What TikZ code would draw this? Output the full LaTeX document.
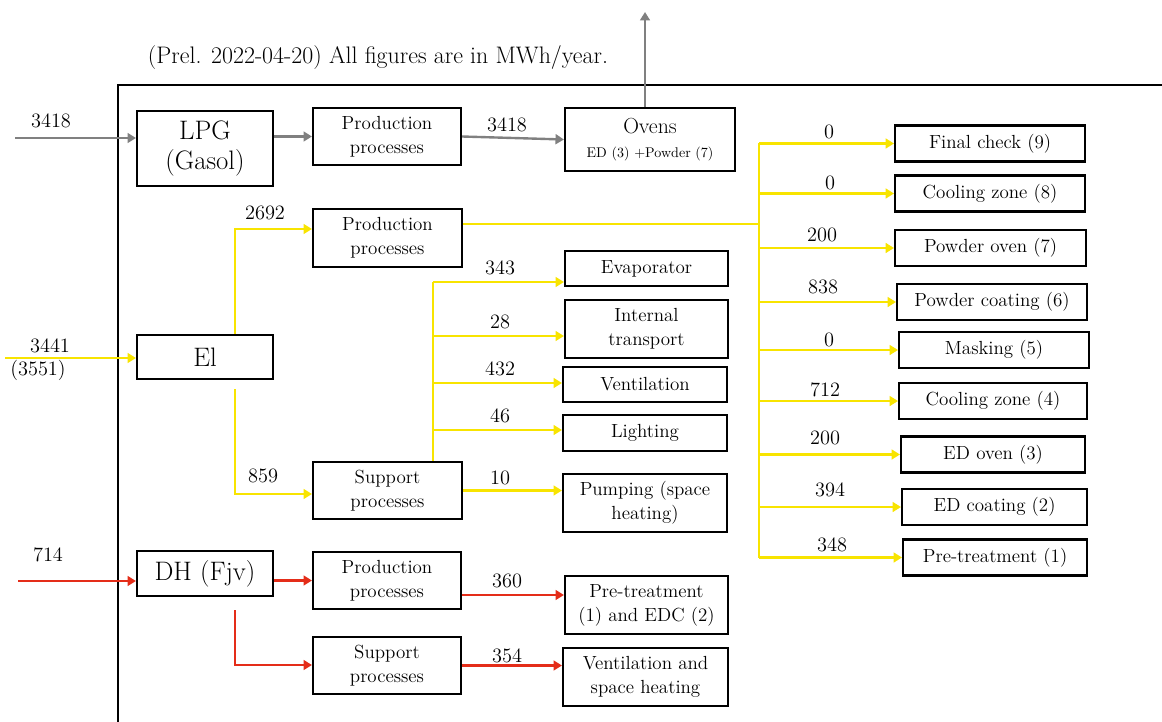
\documentclass[tikz,border=0pt]{standalone}
\usetikzlibrary{arrows.meta,calc}
\newcommand{\pxu}{0.025cm}
\definecolor{gasgray}{RGB}{128,128,128}
\definecolor{elyellow}{RGB}{248,228,0}
\definecolor{dhred}{RGB}{228,45,25}
\tikzset{%
   box/.style={draw=black,line width=1.5pt,align=center,inner sep=0pt,%
      font=\fontsize{13.5}{17}\selectfont},%
   big/.style={font=\fontsize{19}{21.5}\selectfont},%
   pipe/.style={line width=1.7pt},%
   flow/.style={pipe,-{Triangle[length=6pt,width=7pt]}},%
   val/.style={font=\fontsize{14.5}{16}\selectfont,inner sep=0pt},%
}
\begin{document}
\begin{tikzpicture}[x=\pxu,y=-\pxu]%
      \useasboundingbox (0,0) rectangle (1162,722);%
      % ~ frame and title
      \draw[line width=1.5pt] (118,722) -- (118,85) -- (1162,85);%
      \node[font=\fontsize{17}{19}\selectfont] (title) at (378,58)
         {(Prel. 2022-04-20) All figures are in MWh/year.};
      %
      % ~ gas (LPG)
      \node[box,big,minimum width=136*\pxu,minimum height=75*\pxu] (lpg) at (205,148.5) {LPG\\(Gasol)};
      \node[box,minimum width=148*\pxu,minimum height=57*\pxu] (gprod) at (387,136.5) {Production\\processes};
      \node[box,minimum width=170*\pxu,minimum height=63*\pxu] (ovens) at (650,139.5)
         {{\fontsize{15.5}{17}\selectfont Ovens}\\{\fontsize{10}{12}\selectfont ED (3) +Powder (7)}};
      \coordinate (gasin) at (15,138);%
      \coordinate (exh) at (645,12);%
      \draw[flow,gasgray] (gasin) -- (gasin -| lpg.west);%
      \draw[flow,gasgray] (lpg.east |- gprod.west) -- (gprod.west);%
      \draw[flow,gasgray] (gprod.east) -- (ovens.west);%
      \draw[flow,gasgray] (exh |- ovens.north) -- (exh);%
      \node[val] (vgasin) at (51,121) {3418};
      \node[val] (vgasov) at (507,125) {3418};
      %
      % ~ electricity (El)
      \node[box,big,minimum width=136*\pxu,minimum height=44*\pxu] (el) at (205,357) {El};
      \node[box,minimum width=149*\pxu,minimum height=58*\pxu] (eprod) at (387.5,238) {Production\\processes};
      \node[box,minimum width=149*\pxu,minimum height=57*\pxu] (esup) at (387.5,490.5) {Support\\processes};
      \node[box,minimum width=163*\pxu,minimum height=35*\pxu] (evap) at (646.5,268.5) {Evaporator};
      \node[box,minimum width=163*\pxu,minimum height=58*\pxu] (itrans) at (646.5,329) {Internal\\transport};
      \node[box,minimum width=164*\pxu,minimum height=35*\pxu] (vent) at (645,384.5) {Ventilation};
      \node[box,minimum width=164*\pxu,minimum height=36*\pxu] (light) at (645,433) {Lighting};
      \node[box,minimum width=164*\pxu,minimum height=58*\pxu] (pump) at (645,503) {Pumping (space\\heating)};
      \coordinate (elin) at (5,358);%
      \coordinate (eup) at (235,229);%
      \coordinate (edn) at (235,494);%
      \coordinate (sstem) at (433,282);%
      \draw[flow,elyellow] (elin) -- (elin -| el.west);%
      \draw[flow,elyellow] (eup |- el.north) -- (eup) -- (eup -| eprod.west);%
      \draw[flow,elyellow] ($(edn |- el.south)+(0,9)$) -- (edn) -- (edn -| esup.west);%
      \draw[pipe,elyellow] (sstem |- esup.north) -- (sstem);%
      \draw[flow,elyellow] (esup.east) -- (esup.east -| pump.west);%
      \node[val] (velin) at (50,346) {3441};
      \node[val] (velin2) at (38,370) {(3551)};
      \node[val] (veprod) at (265,213) {2692};
      \node[val] (vesup) at (263,476) {859};
      \node[val] (vpump) at (500,478) {10};
      % support branches
      \foreach \tg/\yy/\val in {evap/282/343,itrans/336/28,vent/383/432,light/430/46}%
         {%
            \coordinate (b\tg) at (433,\yy);%
            \draw[flow,elyellow] (b\tg) -- (b\tg -| \tg.west);%
            \node[val] (v\tg) at (500,\yy-14) {\val};
         }%
      % production branches
      \coordinate (trunk) at (759,224);%
      \foreach \nm/\lx/\rx/\yy/\txt/\val/\vx/\vy in {%
            fc/894/1084/143.5/Final check (9)/0/829/132,%
            cz8/894/1084/193.5/Cooling zone (8)/0/830/183,%
            po7/894/1085/248/Powder oven (7)/200/822/235,%
            pc6/896/1086/302/Powder coating (6)/838/823/287,%
            mk5/898/1088/350/Masking (5)/0/829/340,%
            cz4/898/1086/401/Cooling zone (4)/712/825/390,%
            eo3/900/1084/454.5/ED oven (3)/200/825/438,%
            ec2/901/1086/507/ED coating (2)/394/830/490,%
            pt1/902/1086/557.5/Pre-treatment (1)/348/832/545}%
         {%
            \node[box,anchor=west,minimum width={(\rx-\lx)*\pxu},minimum height=36*\pxu] (\nm) at (\lx,\yy) {\txt};
            \draw[flow,elyellow] (trunk |- \nm.west) -- (\nm.west);%
            \node[val] (v\nm) at (\vx,\vy) {\val};
         }%
      \draw[pipe,elyellow] (eprod.east |- trunk) -- (trunk);%
      \draw[pipe,elyellow] (trunk |- fc.west) -- (trunk |- pt1.west);%
      %
      % ~ district heating (DH)
      \node[box,big,minimum width=136*\pxu,minimum height=45*\pxu] (dh) at (205,573.5) {DH (Fjv)};
      \node[box,minimum width=148*\pxu,minimum height=57*\pxu] (hprod) at (387,580.5) {Production\\processes};
      \node[box,minimum width=148*\pxu,minimum height=57*\pxu] (hsup) at (387,665.5) {Support\\processes};
      \node[box,minimum width=163*\pxu,minimum height=58*\pxu] (pretr) at (646.5,605) {Pre-treatment\\(1) and EDC (2)};
      \node[box,minimum width=165*\pxu,minimum height=58*\pxu] (vsh) at (645.5,677) {Ventilation and\\space heating};
      \coordinate (dhin) at (18,581);%
      \coordinate (hdn) at (235,665);%
      \draw[flow,dhred] (dhin) -- (dhin -| dh.west);%
      \draw[flow,dhred] (dh.east |- hprod.west) -- (hprod.west);%
      \draw[flow,dhred] ($(hdn |- dh.south)+(0,13)$) -- (hdn) -- (hdn -| hsup.west);%
      \draw[flow,dhred] ($(hprod.east)+(0,14.5)$) coordinate (hpa) -- (hpa -| pretr.west);%
      \draw[flow,dhred] (hsup.east) -- (hsup.east -| vsh.west);%
      \node[val] (vdhin) at (48,555) {714};
      \node[val] (vhprod) at (507,581) {360};
      \node[val] (vhsup) at (507,656) {354};
      %
   \end{tikzpicture}
\end{document}
